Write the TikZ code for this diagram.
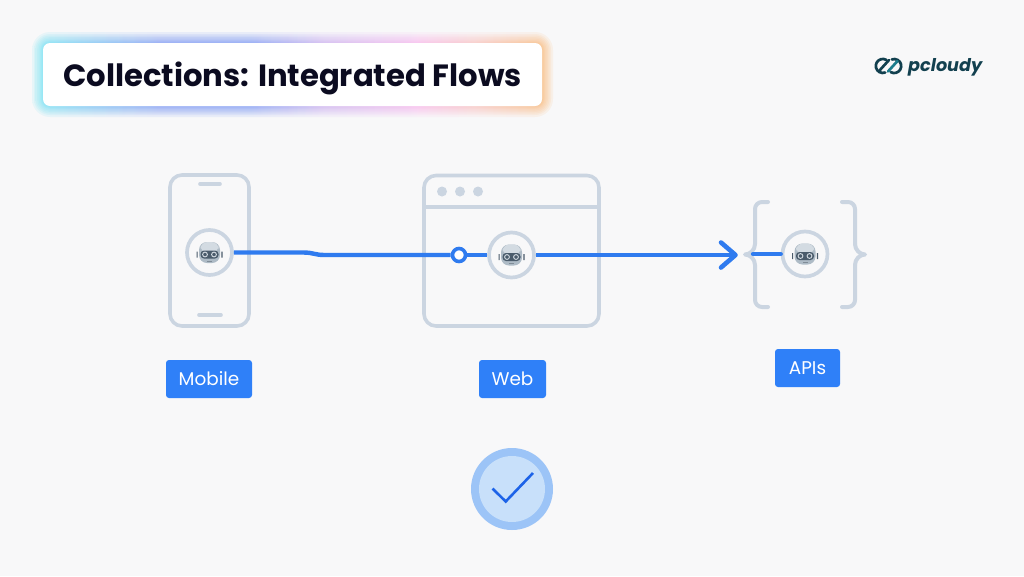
\documentclass[tikz,border=0pt]{standalone}
\usepackage{fontspec}
\setmainfont{Poppins}
\definecolor{bgc}{HTML}{F8F8F9}
\definecolor{frame}{HTML}{CBD5E1}
\definecolor{flowc}{HTML}{2F7BEF}
\definecolor{tagc}{HTML}{2F80F8}
\definecolor{inkc}{HTML}{0B0B20}
\definecolor{logoc}{HTML}{12404F}
\definecolor{logol}{HTML}{1C7C8C}
\definecolor{headc}{HTML}{AEBBC6}
\definecolor{headt}{HTML}{D3DBE2}
\definecolor{visorc}{HTML}{4A5B6B}
\definecolor{okout}{HTML}{9CC4F7}
\definecolor{okin}{HTML}{C8E0FA}
\definecolor{okck}{HTML}{1D63E8}
\definecolor{gcy}{HTML}{5FE3F5}
\definecolor{gbl}{HTML}{6C8CF5}
\definecolor{gvi}{HTML}{C8A8F2}
\definecolor{gpk}{HTML}{F8B0EE}
\definecolor{gsa}{HTML}{FCBDB8}
\definecolor{gor}{HTML}{FBB060}
\pgfdeclarehorizontalshading{glowbar}{100bp}{
 color(0bp)=(gcy); color(25bp)=(gcy);
 color(37bp)=(gbl); color(46bp)=(gbl);
 color(53bp)=(gvi); color(62bp)=(gpk);
 color(68bp)=(gsa); color(75bp)=(gor); color(100bp)=(gor)}
\tikzset{
 x=1pt,y=-1pt,
 outline/.style={draw=frame,line width=3.6pt,rounded corners=12pt,line join=round},
 slit/.style={draw=frame,line width=3.6pt,line cap=round},
 brace/.style={draw=frame,line width=4pt,line cap=round,line join=round},
 botring/.style={circle,draw=frame,line width=3.7pt,fill=bgc,minimum size=45pt,inner sep=0pt},
 flow/.style={draw=flowc,line width=4.4pt},
 headtip/.style={draw=flowc,line width=4.6pt,line cap=round,line join=round},
 tag/.style={rectangle,rounded corners=3pt,fill=tagc,text=white,font=\fontsize{18.4}{18.4}\selectfont,inner sep=0pt,minimum height=38pt},
 dotnode/.style={circle,draw=flowc,line width=3.6pt,fill=white,minimum size=13pt,inner sep=0pt},
 wdot/.style={circle,fill=frame,minimum size=10pt,inner sep=0pt},
 robot/.pic={
  \fill[headc,rounded corners=8pt] (-10.5,-10.5) rectangle (10.5,10.5);
  \fill[headt,rounded corners=7pt] (-9,-10.5) rectangle (9,0);
  \fill[visorc,rounded corners=3.5pt] (-9,-2) rectangle (9,6);
  \draw[headt,line width=.9pt] (-4.5,2) circle (2.4pt) (4.5,2) circle (2.4pt);
  \fill[visorc] (-13,-1) rectangle (-11.8,5) (11.8,-1) rectangle (13,5);
  \fill[visorc!70!white] (-2.5,8) rectangle (2.5,8.8);
 }
}
\begin{document}
\begin{tikzpicture}
\useasboundingbox (0,0) rectangle (1024,576);
\fill[bgc] (0,0) rectangle (1024,576);
% title glow
\foreach \g/\r in {11/18,9/16,7.5/14.5,6/13,4.5/11.5,3/10,2/9,1/8}{
 \shade[shading=glowbar,opacity=.11,rounded corners=\r pt] (43-\g,43-\g) rectangle (542+\g,106+\g);
}
\node[rectangle,rounded corners=7pt,fill=white,minimum width=499pt,minimum height=63pt,inner sep=0pt,text=inkc,text height=23pt,text depth=0pt,font=\fontsize{30.7}{31}\selectfont\bfseries] (title) at (292.5,74.5) {Collections: Integrated Flows};
% logo
\draw[logoc,line width=2.7pt,line cap=round] (886.3,59.9) arc (60:290:7pt);
\draw[logoc,line width=2.7pt,line cap=round] (890.7,72.1) arc (240:470:7pt);
\draw[logoc,line width=2.7pt,line cap=round] (879.5,70.5) -- (889,60);
\draw[logol,line width=2.7pt,line cap=round] (888,71.5) -- (897.5,61);
\node[anchor=base west,inner sep=0pt,text=logoc,font=\fontsize{17.6}{18}\selectfont\bfseries\itshape] (logo) at (908,71) {pcloudy};
% mobile
\draw[outline] (170,175) rectangle (249,326);
\draw[slit] (200,184) -- (220,184);
\draw[slit] (199,315) -- (221,315);
% web
\draw[outline] (424,175.5) rectangle (599,326);
\draw[frame,line width=3.4pt] (424,207) -- (599,207);
\node[wdot] (wa) at (442,191.5) {};
\node[wdot] (wb) at (460,191.5) {};
\node[wdot] (wc) at (478,191.5) {};
% braces
\draw[brace,rounded corners=7pt] (768,202) -- (755,202) -- (755,244);
\draw[brace] (755,244) .. controls (755,250) and (750,254.5) .. (745,254.5) .. controls (750,254.5) and (755,259) .. (755,265);
\draw[brace,rounded corners=7pt] (755,265) -- (755,307) -- (768,307);
\draw[brace,rounded corners=7pt] (842,202) -- (855,202) -- (855,244);
\draw[brace] (855,244) .. controls (855,250) and (860,254.5) .. (865,254.5) .. controls (860,254.5) and (855,259) .. (855,265);
\draw[brace,rounded corners=7pt] (855,265) -- (855,307) -- (842,307);
% robot rings
\node[botring] (rmob) at (209.5,252.5) {};
\node[botring] (rweb) at (511.5,255) {};
\node[botring] (rapi) at (805,254) {};
\pic at (209.5,252.5) {robot};
\pic at (511.5,255) {robot};
\pic at (805,254) {robot};
% connectors
\node[dotnode] (stop) at (459,255) {};
\coordinate (b1) at (303,252.5);
\coordinate (b2) at (325,255);
\coordinate (tip) at (735.5,255);
\coordinate (armt) at (721,242.5);
\coordinate (armb) at (721,267.5);
\coordinate (apis) at (753,254);
\draw[flow] (rmob.east) -- (b1) .. controls (314,252.5) and (314,255) .. (b2) -- (stop.west);
\draw[flow] (stop.east) -- (rweb.west);
\draw[flow] (rweb.east) -- (tip);
\draw[headtip] (armt) -- (tip) -- (armb);
\draw[flow,line cap=round] (apis) -- (rapi.west);
% tags
\node[tag,minimum width=86pt] (tmob) at (209,379) {Mobile};
\node[tag,minimum width=67pt] (tweb) at (512.5,379) {Web};
\node[tag,minimum width=65pt] (tapi) at (807.5,368) {APIs};
% check
\node[circle,fill=okout,minimum size=82pt,inner sep=0pt] (okO) at (512,489) {};
\node[circle,fill=okin,minimum size=66pt,inner sep=0pt] (okI) at (512,489) {};
\draw[okck,line width=2.6pt,line join=miter] (492.5,488.5) -- (505.7,501.5) -- (533,473);
\end{tikzpicture}
\end{document}
